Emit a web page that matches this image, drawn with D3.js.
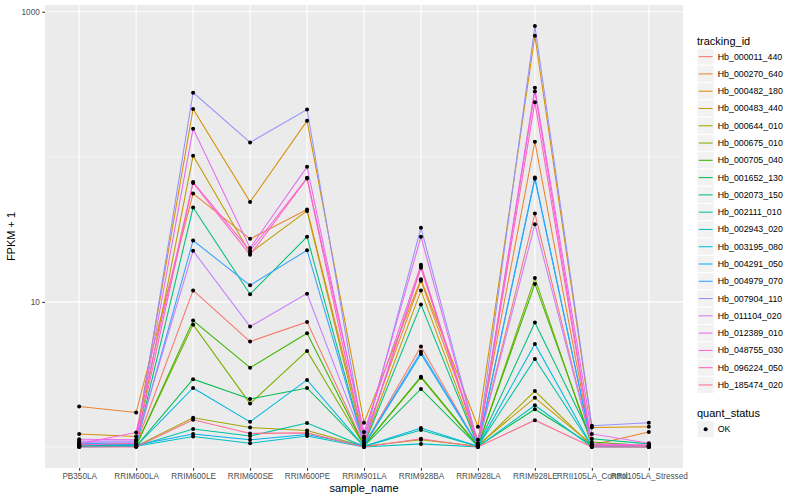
<!DOCTYPE html>
<html>
<head>
<meta charset="utf-8">
<script src="https://cdn.jsdelivr.net/npm/d3@7"></script>
<style>
	body { margin: 0; background: #fff; }
	text { font-family: "Liberation Sans", Arial, sans-serif; }
</style>
</head>
<body>
<svg id="chart" width="800" height="500"></svg>
<script>
// sample order on the x axis
const samples = ["PB350LA", "RRIM600LA", "RRIM600LE", "RRIM600SE", "RRIM600PE", "RRIM901LA",
	"RRIM928BA", "RRIM928LA", "RRIM928LE", "RRII105LA_Control", "RRII105LA_Stressed"];

const trackingIds = ["Hb_000011_440", "Hb_000270_640", "Hb_000482_180", "Hb_000483_440", "Hb_000644_010",
	"Hb_000675_010", "Hb_000705_040", "Hb_001652_130", "Hb_002073_150", "Hb_002111_010",
	"Hb_002943_020", "Hb_003195_080", "Hb_004291_050", "Hb_004979_070", "Hb_007904_110",
	"Hb_011104_020", "Hb_012389_010", "Hb_048755_030", "Hb_096224_050", "Hb_185474_020"];

const trackingColors = ["#F8766D", "#EA8331", "#D89000", "#C09B00", "#A3A500", "#7CAE00", "#39B600",
	"#00BB4E", "#00BF7D", "#00C1A3", "#00BFC4", "#00BAE0", "#00B0F6", "#35A2FF", "#9590FF",
	"#C77CFF", "#E76BF3", "#FA62DB", "#FF62BC", "#FF6C91"];

// FPKM + 1, one array per gene, in sample order
const hb_000011_440 = [1.02, 1.04, 12.0, 5.33, 7.28, 1.03, 4.92, 1.02, 40.6, 1.02, 1.01];
const hb_000270_640 = [1.90, 1.73, 55.8, 27.2, 43.3, 1.15, 14.0, 1.12, 127, 1.03, 1.27];
const hb_000482_180 = [1.23, 1.18, 214, 48.9, 177, 1.47, 14.3, 1.38, 683, 1.36, 1.38];
const hb_000483_440 = [1.04, 1.05, 101.6, 21.7, 42.4, 1.04, 12.0, 1.03, 2.18, 1.04, 1.02];
const hb_000644_010 = [1.01, 1.01, 1.59, 1.36, 1.30, 1.01, 1.12, 1.01, 2.43, 1.01, 1.00];
const hb_000675_010 = [1.01, 1.02, 6.97, 1.99, 4.59, 1.02, 3.00, 1.01, 14.6, 1.02, 1.01];
const hb_000705_040 = [1.02, 1.02, 7.43, 3.52, 6.08, 1.02, 3.05, 1.02, 13.3, 1.08, 1.02];
const hb_001652_130 = [1.01, 1.01, 2.93, 2.14, 2.55, 1.01, 2.51, 1.01, 1.82, 1.03, 1.01];
const hb_002073_150 = [1.03, 1.02, 44.7, 11.3, 28.1, 1.03, 9.58, 1.02, 7.2, 1.14, 1.05];
const hb_002111_010 = [1.01, 1.01, 1.33, 1.19, 1.46, 1.01, 1.31, 1.01, 4.04, 1.01, 1.01];
const hb_002943_020 = [1.00, 1.01, 1.18, 1.06, 1.19, 1.00, 1.05, 1.00, 1.94, 1.00, 1.00];
const hb_003195_080 = [1.02, 1.01, 2.55, 1.49, 2.90, 1.01, 1.35, 1.01, 5.13, 1.01, 1.01];
const hb_004291_050 = [1.05, 1.03, 1.23, 1.12, 1.22, 1.02, 4.37, 1.02, 70.5, 1.02, 1.02];
const hb_004979_070 = [1.06, 1.04, 26.5, 13.0, 22.7, 1.03, 4.54, 1.03, 72, 1.02, 1.02];
const hb_007904_110 = [1.08, 1.08, 277, 125.6, 212, 1.10, 32.4, 1.06, 797, 1.40, 1.47];
const hb_011104_020 = [1.10, 1.10, 22.5, 6.76, 11.4, 1.06, 17.5, 1.03, 34.3, 1.03, 1.01];
const hb_012389_010 = [1.13, 1.12, 156, 23.5, 85.3, 1.18, 28.1, 1.04, 299, 1.23, 1.06];
const hb_048755_030 = [1.05, 1.26, 67, 22.5, 71.6, 1.27, 18.0, 1.05, 282, 1.05, 1.03];
const hb_096224_050 = [1.03, 1.06, 66, 21.1, 71, 1.05, 17.2, 1.03, 238, 1.02, 1.02];
const hb_185474_020 = [1.00, 1.00, 1.54, 1.24, 1.25, 1.00, 1.14, 1.00, 1.53, 1.00, 1.00];

const yTicks = [10, 1000];
const yMinor = [1, 100];
const quantStatus = ["OK"];

const seriesValues = [hb_000011_440, hb_000270_640, hb_000482_180, hb_000483_440, hb_000644_010,
	hb_000675_010, hb_000705_040, hb_001652_130, hb_002073_150, hb_002111_010,
	hb_002943_020, hb_003195_080, hb_004291_050, hb_004979_070, hb_007904_110,
	hb_011104_020, hb_012389_010, hb_048755_030, hb_096224_050, hb_185474_020];

const series = trackingIds.map((id, i) => ({
	id: id,
	color: trackingColors[i],
	points: samples.map((s, j) => ({ sample: s, value: seriesValues[i][j] }))
}));

const panel = { left: 45, right: 683, top: 5, bottom: 468 };
const svg = d3.select("#chart");

// x: discrete, ggplot adds 0.6 of a step on each side
const x = d3.scalePoint()
	.domain(samples)
	.range([panel.left, panel.right])
	.padding(0.6);

// y: log10, 5% expansion in log space like ggplot
const logExtent = d3.extent(seriesValues.flat(), v => Math.log10(v));
const pad = (logExtent[1] - logExtent[0]) * 0.05;
const y = d3.scaleLog()
	.domain([Math.pow(10, logExtent[0] - pad), Math.pow(10, logExtent[1] + pad)])
	.range([panel.bottom, panel.top]);

// panel background
svg.append("rect")
	.attr("x", panel.left)
	.attr("y", panel.top)
	.attr("width", panel.right - panel.left)
	.attr("height", panel.bottom - panel.top)
	.attr("fill", "#EBEBEB");

const grid = svg.append("g").classed("grid", true);

grid.selectAll("line.minor")
	.data(yMinor).enter()
	.append("line")
	.classed("minor", true)
	.attr("x1", panel.left)
	.attr("x2", panel.right)
	.attr("y1", d => y(d))
	.attr("y2", d => y(d))
	.attr("stroke", "#fff")
	.attr("stroke-width", 0.55);

grid.selectAll("line.major-y")
	.data(yTicks).enter()
	.append("line")
	.classed("major-y", true)
	.attr("x1", panel.left)
	.attr("x2", panel.right)
	.attr("y1", d => y(d))
	.attr("y2", d => y(d))
	.attr("stroke", "#fff")
	.attr("stroke-width", 1.1);

grid.selectAll("line.major-x")
	.data(samples).enter()
	.append("line")
	.classed("major-x", true)
	.attr("x1", d => x(d))
	.attr("x2", d => x(d))
	.attr("y1", panel.top)
	.attr("y2", panel.bottom)
	.attr("stroke", "#fff")
	.attr("stroke-width", 1.1);

// lines
const line = d3.line()
	.x(d => x(d.sample))
	.y(d => y(d.value));

svg.append("g")
	.classed("lines", true)
	.selectAll("path")
	.data(series).enter()
	.append("path")
	.attr("d", d => line(d.points))
	.attr("fill", "none")
	.attr("stroke", d => d.color)
	.attr("stroke-width", 1.05);

// points, all quant_status OK -> black
svg.append("g")
	.classed("points", true)
	.selectAll("circle")
	.data(series.flatMap(s => s.points)).enter()
	.append("circle")
	.attr("cx", d => x(d.sample))
	.attr("cy", d => y(d.value))
	.attr("r", 2)
	.attr("fill", "#000");

// axes
const xAxis = d3.axisBottom(x).tickSize(2.75).tickPadding(2.5);
const yAxis = d3.axisLeft(y).tickValues(yTicks).tickFormat(d3.format("d")).tickSize(2.75).tickPadding(2.5);

const gx = svg.append("g")
	.attr("transform", `translate(0,${panel.bottom})`)
	.call(xAxis);
const gy = svg.append("g")
	.attr("transform", `translate(${panel.left},0)`)
	.call(yAxis);

[gx, gy].forEach(g => {
	g.select(".domain").remove();
	g.selectAll(".tick line").attr("stroke", "#333333").attr("stroke-width", 1.05);
	g.selectAll(".tick text")
		.attr("fill", "#4D4D4D")
		.style("font-size", "8.2px")
		.style("font-family", "'Liberation Sans', Arial, sans-serif");
});

svg.append("text")
	.attr("x", (panel.left + panel.right) / 2)
	.attr("y", 492)
	.attr("text-anchor", "middle")
	.style("font-size", "11px")
	.text("sample_name");

svg.append("text")
	.attr("transform", `translate(15,${(panel.top + panel.bottom) / 2}) rotate(-90)`)
	.attr("text-anchor", "middle")
	.style("font-size", "11px")
	.text("FPKM + 1");

// legend: tracking_id
const keySize = 17.28;
const legend = svg.append("g").attr("transform", "translate(697,0)");

legend.append("text")
	.attr("x", 0)
	.attr("y", 44.5)
	.style("font-size", "11px")
	.text("tracking_id");

const keys = legend.selectAll("g.key")
	.data(series).enter()
	.append("g")
	.classed("key", true)
	.attr("transform", (d, i) => `translate(0,${48 + i * keySize})`);

keys.append("rect")
	.attr("width", keySize)
	.attr("height", keySize)
	.attr("fill", "#F2F2F2")
	.attr("stroke", "#fff")
	.attr("stroke-width", 1);

keys.append("line")
	.attr("x1", 1.7)
	.attr("x2", keySize - 1.7)
	.attr("y1", keySize / 2)
	.attr("y2", keySize / 2)
	.attr("stroke", d => d.color)
	.attr("stroke-width", 1.05);

keys.append("text")
	.attr("x", keySize + 3.5)
	.attr("y", keySize / 2 + 3)
	.style("font-size", "8.8px")
	.text(d => d.id);

// legend: quant_status
const legend2 = svg.append("g").attr("transform", "translate(697,0)");

legend2.append("text")
	.attr("x", 0)
	.attr("y", 416.5)
	.style("font-size", "11px")
	.text("quant_status");

const qkeys = legend2.selectAll("g.qkey")
	.data(quantStatus).enter()
	.append("g")
	.classed("qkey", true)
	.attr("transform", (d, i) => `translate(0,${420.5 + i * keySize})`);

qkeys.append("rect")
	.attr("width", keySize)
	.attr("height", keySize)
	.attr("fill", "#F2F2F2")
	.attr("stroke", "#fff")
	.attr("stroke-width", 1);

qkeys.append("circle")
	.attr("cx", keySize / 2)
	.attr("cy", keySize / 2)
	.attr("r", 2)
	.attr("fill", "#000");

qkeys.append("text")
	.attr("x", keySize + 3.5)
	.attr("y", keySize / 2 + 3)
	.style("font-size", "8.8px")
	.text(d => d);
</script>
</body>
</html>
